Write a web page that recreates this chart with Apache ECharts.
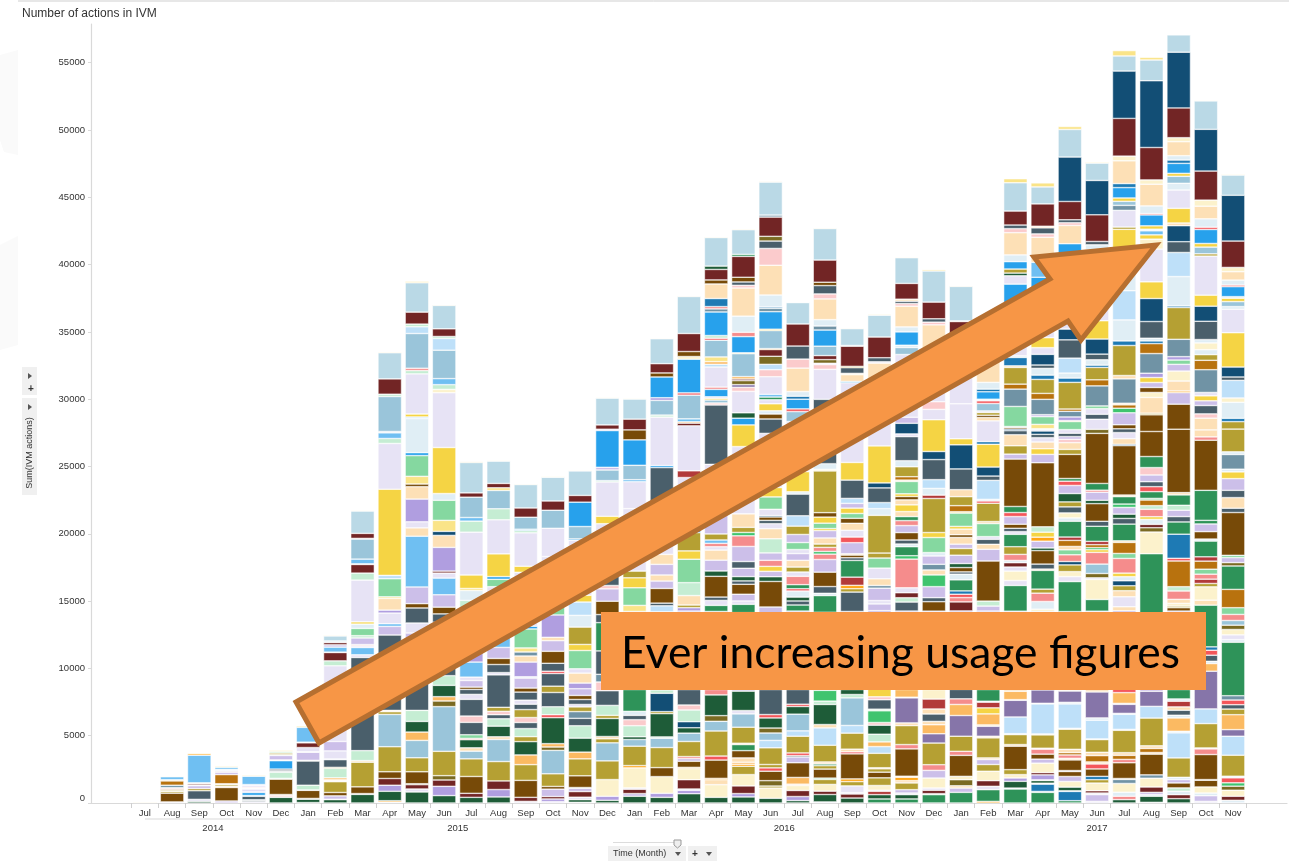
<!DOCTYPE html>
<html><head><meta charset="utf-8">
<style>html,body{margin:0;padding:0;background:#fff}#c{width:1289px;height:863px}</style>
<script src="https://cdn.jsdelivr.net/npm/echarts@6/dist/echarts.min.js"></script></head>
<body><div id="c"></div>
<script>
const monthLabels=['Jul','Aug','Sep','Oct','Nov','Dec','Jan','Feb','Mar','Apr','May','Jun','Jul','Aug','Sep','Oct','Nov','Dec','Jan','Feb','Mar','Apr','May','Jun','Jul','Aug','Sep','Oct','Nov','Dec','Jan','Feb','Mar','Apr','May','Jun','Jul','Aug','Sep','Oct','Nov'];
const yearLabels=['2014','2015','2016','2017'];
const yearCentres=[3,12,24,35.5];
const yearSpans=[[0.5,5.5],[6.5,17.5],[18.5,29.5],[30.5,40.5]];
const valueTicks=[0,5000,10000,15000,20000,25000,30000,35000,40000,45000,50000,55000];

const m1407=['pyl',60];
const m1408=['lav',80,'br',650,'ol',130,'cr',50,'ol',100,'red',80,'cr',50,'st',180,'or',320,'pe',90,'lb',220,'pyl',50];
const m1409=['dg',120,'lav',150,'sl',640,'ol',160,'lil',210,'lav',60,'mar',100,'pe',60,'lb',2050,'org',120,'pyl',60];
const m1410=['lil',150,'br',1000,'pe',100,'ol',120,'cr',60,'or',680,'lil',170,'mar',60,'lav',60,'pbl',100,'lb',150,'pyl',80];
const m1411=['lav',100,'sl',100,'lav',40,'sl',260,'pbl',60,'sky',220,'lil',100,'pur',100,'lil',90,'mar',40,'pnk',80,'lil',100,'lav',80,'lb',620,'pe',40,'pyl',70];
const m1412=['dg',420,'lav',50,'sal',100,'pe',60,'br',1140,'pbl',60,'pm',450,'sl',80,'pe',30,'sl',130,'sky',620,'pbl',60,'lil',330,'lav',60,'ol',120,'pm',120,'pyl',80];
const m1501=['lav',30,'dg',250,'pe',60,'br',600,'pe',30,'pm',350,'sl',1800,'pe',50,'lil',600,'pbl',40,'lav',310,'mar',350,'lav',50,'lb',1100,'pyl',100];
const m1502=['dg',250,'pe',30,'lil',250,'br',250,'ol',800,'ol',50,'mar',30,'pe',60,'lo',150,'pm',700,'ol',80,'sl',570,'lil',50,'lav',600,'lil',700,'lav',5620,'pm',370,'mar',620,'pe',30,'lb',370,'lil',170,'mar',170,'pbl',120,'gb',370,'pyl',60];
const m1503=['dg',640,'lav',60,'br',500,'ol',1830,'pe',120,'pm',740,'sl',6920,'lav',200,'lb',540,'lav',120,'pnk',100,'lil',490,'pm',170,'mint',540,'pbl',320,'yl',170,'lav',3100,'pm',520,'mar',640,'pe',50,'lb',350,'tb',1490,'pe',50,'mar',370,'gb',1660,'pyl',50];
const m1504=['lav',70,'org',100,'dg',700,'pur',450,'mar',500,'br',500,'ol',1860,'tb',2400,'ol',200,'pe',100,'sl',5600,'lil',640,'lb',200,'lav',790,'pur',220,'pe',870,'pyl',120,'mint',1340,'ltb',250,'yl',6400,'lav',3400,'pm',370,'lb',420,'pbl',100,'tb',2600,'pm',170,'mar',1140,'gb',1940,'pyl',60];
const m1505=['dg',820,'lav',220,'mar',320,'dol',70,'br',890,'ol',1040,'tb',1290,'lo',620,'dg',790,'pm',820,'sl',3520,'lil',2230,'lav',740,'sl',1120,'br',320,'lil',1240,'lb',3770,'pe',620,'lav',450,'pur',1690,'pe',920,'br',200,'pyl',570,'mint',1540,'sky',220,'pbl',2530,'ltb',120,'yl',220,'lav',2980,'pm',250,'sal',170,'tb',2580,'ltb',500,'pm',200,'mar',890,'gb',2180,'pyl',100];
const m1506=['dg',550,'pur',690,'mar',470,'dol',320,'ol',1810,'tb',3320,'dol',420,'lo',320,'dg',840,'pm',720,'sl',2500,'lil',1470,'sl',620,'br',500,'lil',920,'lb',1240,'lav',370,'mar',150,'pur',1760,'pe',890,'navy',300,'pyl',820,'mint',1490,'pbl',500,'yl',3420,'lav',4070,'cr',250,'pm',350,'lb',450,'tb',2110,'ltb',870,'pm',150,'mar',570,'gb',1740,'pyl',50];
const m1507=['dg',420,'mar',300,'br',1250,'ol',1310,'tb',570,'pe',250,'dg',600,'sal',100,'mint',270,'sl',920,'pnk',470,'sl',1240,'lav',370,'sl',370,'br',170,'lil',490,'lav',250,'lb',1120,'pur',1000,'lav',1500,'lil',1340,'pm',740,'pbl',740,'pyl',150,'yl',1000,'lav',3180,'pm',820,'lb',270,'tb',1510,'mar',320,'gb',2260,'pyl',60];
const m1508=['dg',450,'pur',550,'mar',640,'ol',1440,'tb',1640,'pe',200,'dg',790,'pm',550,'sl',300,'pnk',250,'ol',300,'sl',2410,'lav',170,'sl',600,'br',450,'lil',820,'lb',1300,'lil',1000,'lav',2210,'mint',550,'sky',200,'yl',1690,'lav',2530,'pm',820,'tb',1360,'pyl',200,'mar',320,'gb',1660,'pyl',50];
const m1509=['lav',120,'mar',300,'br',1260,'ol',1170,'lo',720,'dg',990,'ol',370,'pm',600,'sl',450,'pnk',370,'ol',590,'sl',400,'lav',300,'sl',600,'br',300,'lil',740,'pbl',100,'pur',1090,'pe',450,'st',300,'pyl',300,'mint',1410,'sky',200,'lav',4010,'yl',450,'lav',2480,'pm',170,'lb',100,'tb',890,'mar',690,'gb',1740,'pyl',50];
const m1510=['lav',100,'pur',200,'mar',180,'lil',550,'br',200,'ol',940,'tb',1740,'dol',250,'lo',250,'dg',1930,'red',220,'pm',590,'sl',1060,'ol',470,'sl',940,'red',170,'sl',590,'br',890,'lil',790,'pe',250,'pur',1660,'mint',1700,'lav',2640,'lav',2100,'tb',1340,'mar',690,'gb',1760,'pyl',50];
const m1511=['lav',50,'dg',200,'lav',180,'mar',420,'lil',250,'pbl',50,'br',870,'ol',1260,'lo',500,'dg',1040,'pm',920,'sl',550,'st',500,'ol',350,'lav',180,'sl',370,'br',300,'lil',500,'pur',420,'pe',740,'lav',320,'mint',1360,'yl',450,'ol',1290,'pbl',870,'ltb',990,'yl',500,'lav',4090,'sky',100,'tb',920,'sky',1810,'mar',500,'gb',1820,'pyl',50];
const m1512=['dg',200,'pur',300,'cr',1240,'ol',1390,'tb',1340,'ol',300,'pe',170,'dg',1340,'ol',230,'pm',740,'sl',1090,'pnk',650,'st',570,'sl',1740,'g',2100,'sl',600,'br',990,'lil',920,'pnk',250,'sl',1500,'lav',3090,'yl',550,'lav',2550,'pm',100,'tb',790,'lil',200,'sky',2730,'lil',100,'mar',320,'gb',1990,'pyl',50];
const m1601=['dg',500,'lil',200,'mar',320,'lav',100,'cr',1490,'org',170,'ol',1440,'tb',500,'dg',200,'pm',820,'pnk',450,'sl',320,'pbl',300,'g',1620,'lil',5800,'pyl',450,'mint',1310,'yl',740,'ol',500,'lav',4640,'lav',2000,'lb',150,'tb',1070,'sky',1890,'br',740,'mar',800,'gb',1490,'pyl',50];
const m1602=['dg',420,'pur',300,'cr',1240,'br',670,'ol',1490,'tb',690,'pm',100,'dg',1730,'ol',150,'navy',1360,'pm',250,'lil',5800,'ltb',450,'sl',200,'br',1090,'lil',550,'pe',450,'lil',790,'pe',740,'lav',2360,'sl',4090,'sky',150,'lav',3600,'pm',150,'tb',1090,'pur',200,'sky',1540,'br',300,'mar',690,'gb',1850,'pyl',50];
const m1603=['dg',690,'pur',250,'lav',100,'mar',690,'cr',820,'lo',100,'br',450,'lil',200,'sal',150,'ol',1120,'tb',620,'dg',400,'navy',450,'pm',870,'pnk',370,'sl',1150,'lil',5830,'pur',250,'ol',200,'pe',700,'pm',960,'mint',1740,'yl',620,'ol',1360,'sky',1000,'lav',3090,'dred',500,'lav',3340,'mar',200,'lo',100,'lb',220,'tb',1760,'red',170,'sky',2500,'cr',200,'br',370,'mar',1340,'gb',2750,'pyl',50];
const m1604=['dg',420,'cr',940,'pe',370,'org',100,'br',1360,'red',300,'ol',1860,'tb',720,'dol',420,'dg',1540,'sal',400,'lil',5800,'g',450,'lav',370,'sl',250,'br',1540,'dg',400,'lil',800,'pe',750,'lav',250,'sal',250,'lb',250,'ol',450,'lil',2360,'lav',2810,'sl',4410,'pnk',150,'tb',220,'yl',120,'lav',120,'sky',550,'sal',170,'lav',1490,'ltb',200,'lo',200,'pyl',350,'tb',1240,'red',150,'pm',200,'sky',1750,'st',230,'sal',170,'blu',600,'pe',1080,'br',300,'mar',780,'dg',250,'gb',2120,'pyl',50];
const m1605=['dg',450,'pur',250,'mar',570,'cr',840,'ol',620,'org',150,'lo',150,'pe',320,'br',540,'g',450,'pe',100,'ol',1190,'tb',990,'lav',250,'dg',1440,'lil',5830,'g',620,'lav',250,'lil',500,'br',740,'sl',250,'dg',320,'lil',620,'sl',500,'lil',1120,'sal',790,'lg',250,'ol',380,'pe',1000,'lav',5000,'yl',1610,'sky',500,'dg',400,'lav',1590,'pnk',300,'dpu',200,'dol',300,'mar',120,'lo',180,'tb',1700,'pyl',70,'sky',1200,'sal',320,'pbl',1200,'pe',2090,'pnk',200,'sl',250,'br',350,'mar',1550,'g',150,'gb',1830,'pyl',60];
const m1606=['dg',350,'cr',760,'ol',150,'dol',400,'br',700,'red',250,'ol',250,'ol',1240,'ltb',550,'tb',550,'dol',370,'dg',750,'red',250,'sl',1860,'pnk',300,'lo',100,'lil',5730,'br',1900,'dg',350,'lil',400,'yl',370,'sal',450,'lil',550,'pm',1050,'pe',750,'lav',370,'sl',250,'br',250,'navy',100,'lav',470,'mint',920,'yl',700,'lav',4020,'sl',1070,'br',370,'pbl',240,'yl',520,'lav',300,'g',200,'lb',200,'lav',1310,'pnk',520,'ltb',400,'dol',600,'mar',500,'org',70,'tb',1340,'yl',100,'sky',1300,'st',250,'blu',100,'pbl',890,'pe',2210,'pnk',1250,'sl',550,'dol',350,'mar',1430,'st',150,'gb',2450,'lil',50,'pyl',50];
const m1607=['dg',180,'pur',300,'mar',450,'cr',370,'pe',100,'lo',500,'br',1090,'lil',430,'sl',100,'red',200,'ol',1240,'ltb',400,'tb',1240,'dg',570,'red',170,'sl',1090,'lil',5830,'g',450,'sl',300,'dg',290,'pbl',450,'red',170,'g',300,'sal',620,'lav',320,'ol',370,'pe',500,'lil',500,'lav',300,'mint',520,'lil',600,'ol',620,'ltb',770,'sl',1610,'pbl',170,'yl',1500,'lav',3720,'tb',740,'red',200,'sky',720,'blu',220,'pbl',350,'pe',1740,'pnk',670,'sl',970,'mar',1640,'gb',1590,'pyl',30];
const m1608=['lav',80,'dg',550,'mar',250,'cr',500,'ol',370,'mint',100,'br',670,'ol',250,'g',130,'pe',150,'ol',1240,'ltb',1290,'pe',250,'dg',1490,'pm',250,'lg',800,'lil',5800,'g',1240,'pbl',170,'sl',500,'br',1070,'lil',940,'sal',400,'lg',200,'sal',300,'ol',250,'pe',450,'lil',550,'yl',150,'mint',400,'yl',450,'br',330,'ol',3100,'cr',120,'pbl',420,'sl',4780,'lav',2230,'pnk',350,'lav',100,'dol',270,'mar',300,'tb',700,'sky',1200,'st',300,'pbl',470,'pe',1540,'pnk',370,'sl',620,'br',250,'mar',1650,'gb',2340,'pyl',50];
const m1609=['dg',370,'mar',300,'lav',100,'lav',500,'ol',320,'org',200,'br',1860,'red',150,'pe',200,'ol',1190,'ltb',570,'tb',2050,'pm',250,'dg',370,'lil',5800,'sl',1440,'ol',250,'org',250,'dred',610,'g',1240,'sl',200,'br',200,'pe',100,'lil',820,'red',420,'lav',500,'pe',520,'br',370,'mint',360,'yl',400,'lil',350,'ltb',370,'sl',1360,'yl',1310,'lav',5920,'sky',100,'pe',500,'cr',100,'sl',420,'ol',100,'mar',1500,'lav',50,'gb',1250,'pyl',50];
const m1610=['g',300,'dg',320,'dred',250,'lav',80,'cr',350,'ol',570,'br',420,'ol',250,'pe',80,'ol',1070,'ltb',500,'lo',350,'pm',570,'dg',670,'pnk',200,'lg',870,'pm',120,'sl',700,'pnk',220,'yl',570,'lil',5830,'lil',500,'lav',250,'lil',920,'st',200,'pe',500,'lav',790,'mint',750,'ol',370,'ol',2800,'pbl',500,'ltb',450,'sl',1090,'navy',370,'yl',2750,'lav',4150,'pe',2000,'lav',100,'sl',300,'mar',1540,'gb',1620,'pyl',60];
const m1611=['g',300,'dg',320,'lav',120,'lil',250,'ol',500,'pe',170,'org',250,'pe',80,'br',2030,'sal',320,'ol',1410,'pe',200,'dpu',1860,'pe',50,'lo',570,'lil',5830,'sl',670,'pm',320,'mar',370,'lav',370,'sal',2130,'lg',250,'g',670,'pbl',200,'sl',300,'br',550,'lil',520,'sal',370,'g',300,'pe',370,'yl',500,'pe',370,'br',250,'yl',200,'mint',920,'pe',100,'or',250,'ol',740,'pbl',450,'sl',1790,'lav',200,'navy',790,'lil',450,'lav',4660,'tb',520,'pbl',170,'sky',990,'pbl',370,'pe',1540,'pnk',200,'sl',170,'pe',150,'mar',1170,'gb',1910,'pyl',50];
const m1612=['g',620,'pm',74,'mar',250,'lav',170,'cr',740,'lil',570,'sal',420,'ol',1610,'dpu',690,'lo',670,'pe',250,'sl',550,'pe',370,'dred',740,'cr',700,'lil',5830,'br',700,'sl',300,'lil',820,'lg',870,'pe',370,'st',420,'lil',620,'pbl',250,'mint',1120,'yl',370,'ol',2530,'dred',250,'pbl',500,'ltb',650,'sl',1490,'navy',600,'yl',2360,'lav',770,'pnk',570,'lav',3680,'pe',2030,'pnk',200,'sl',250,'mar',1240,'gb',2310,'pyl',100];
const m1701=['g',790,'lil',320,'pe',170,'dol',450,'cr',250,'br',1560,'sal',300,'ol',1120,'dpu',1540,'lo',820,'sal',420,'sl',700,'lil',5830,'mar',670,'sal',320,'red',250,'blu',250,'g',820,'pbl',420,'sl',170,'br',320,'dg',300,'lil',620,'ol',500,'lil',320,'pe',500,'br',200,'pe',420,'yl',200,'mint',990,'pyl',100,'or',450,'ol',670,'pe',520,'sl',1540,'navy',1790,'yl',450,'lav',2600,'lav',4990,'mar',1120,'pe',50,'gb',2560,'pyl',50];
const m1702=['org',120,'g',870,'lav',250,'mar',420,'cr',700,'ol',500,'lil',370,'pe',120,'ol',1490,'pe',120,'dpu',740,'pe',100,'lo',820,'yl',450,'dred',420,'pbl',70,'g',870,'lil',5830,'lil',370,'pm',370,'br',2980,'lil',870,'pe',370,'sl',370,'lav',200,'mint',970,'pe',150,'ol',1360,'red',170,'pbl',120,'ltb',1410,'sl',320,'navy',670,'yl',1690,'blu',200,'lav',1540,'pe',250,'br',170,'ol',200,'lav',120,'tb',550,'red',200,'pbl',120,'sky',550,'blu',200,'pbl',500,'pe',2250,'mar',1500,'gb',1100,'pyl',50];
const m1703=['g',1040,'pbl',70,'dg',500,'pur',250,'cr',250,'ol',370,'br',1740,'pe',120,'ol',740,'pbl',70,'ltb',1240,'dpu',1240,'pbl',50,'lo',620,'pe',120,'lil',5830,'g',1910,'lav',370,'cr',700,'lav',300,'mar',320,'pbl',170,'sal',450,'ol',570,'g',920,'lav',200,'sl',250,'br',300,'lil',570,'red',300,'g',450,'br',3520,'lil',370,'ol',620,'pe',820,'sl',300,'navy',120,'br',120,'pbl',70,'mint',1490,'st',1290,'or',370,'ol',1240,'pe',120,'blu',620,'pbl',120,'lav',2700,'lb',900,'sky',1730,'lav',620,'dg',200,'ol',300,'sky',550,'pbl',500,'pe',1650,'pnk',300,'sl',270,'mar',1040,'gb',2100,'pyl',300];
const m1704=['g',790,'pbl',70,'blu',540,'pbl',70,'dg',200,'lav',50,'pur',370,'mar',170,'cr',700,'lil',300,'br',370,'sal',370,'pe',70,'ol',990,'pe',70,'ltb',2230,'pe',50,'dpu',990,'lil',5830,'cr',170,'pbl',570,'sal',620,'ol',300,'g',1390,'pe',100,'sl',370,'br',1000,'dg',200,'lil',500,'org',300,'yl',370,'pm',400,'br',4760,'lil',620,'yl',420,'pe',500,'lav',320,'sl',250,'navy',250,'lav',120,'pm',50,'pyl',320,'mint',570,'lil',150,'st',1140,'or',440,'ol',1040,'blu',320,'pbl',500,'sl',250,'navy',790,'lav',500,'yl',740,'lav',2470,'sky',2020,'lb',1110,'pe',1860,'pnk',250,'sl',450,'pe',120,'mar',1660,'gb',1260,'pyl',300];
const m1705=['g',170,'blu',690,'pbl',50,'dg',270,'cr',420,'lil',370,'br',370,'pbl',70,'br',790,'pe',120,'sal',250,'or',170,'pe',250,'ol',1490,'pbl',70,'ltb',1810,'pbl',120,'dpu',840,'pe',70,'lil',5830,'g',2230,'lav',370,'cr',370,'ol',500,'navy',250,'sal',500,'mint',370,'pe',250,'or',450,'dred',250,'g',1170,'pbl',250,'cr',370,'sl',450,'ol',370,'dg',620,'lil',600,'red',320,'g',200,'br',1790,'ol',370,'pe',500,'pnk',250,'lil',200,'sl',250,'lav',270,'mint',600,'pyl',70,'pur',270,'st',420,'or',170,'ol',1980,'blu',320,'pbl',370,'ltb',1110,'sl',1360,'navy',800,'lav',3200,'sky',3140,'pe',1360,'pnk',200,'sl',220,'mar',1360,'navy',3300,'gb',2050,'pyl',220];
const m1706=['lav',120,'lil',500,'lav',120,'mar',170,'cr',570,'ol',250,'blu',250,'br',550,'red',370,'pe',150,'or',470,'pe',250,'ol',940,'pbl',50,'ltb',1390,'pbl',170,'dpu',1930,'pe',170,'lil',5830,'g',870,'cr',1490,'lav',120,'dol',320,'tb',700,'sal',870,'yl',200,'lg',150,'or',220,'dred',250,'g',1120,'sl',370,'br',1310,'dg',250,'lil',600,'sal',150,'g',500,'br',3720,'dol',300,'lav',750,'sl',370,'lav',420,'mint',200,'st',1490,'or',450,'ol',920,'blu',170,'pbl',400,'sl',420,'navy',1120,'yl',1360,'lav',2650,'yl',2620,'pbl',370,'sl',250,'mar',1980,'navy',2550,'gb',1290,'pyl',70];
const m1707=['dg',250,'sal',250,'pbl',300,'cr',650,'st',300,'pe',70,'br',1170,'sal',250,'or',300,'pe',200,'ol',1660,'pbl',70,'ltb',1120,'pbl',70,'dpu',670,'pbl',70,'lo',800,'red',250,'lil',5830,'pe',300,'lav',740,'pe',450,'ol',370,'navy',370,'pbl',300,'yl',270,'sal',1090,'mint',370,'or',820,'pe',120,'g',1240,'sl',420,'dg',320,'lil',500,'lg',250,'g',550,'pe',120,'br',3670,'navy',100,'pe',420,'lav',450,'sl',280,'br',300,'lil',890,'lg',340,'or',250,'pe',120,'st',1810,'pe',250,'ol',2230,'blu',340,'pbl',1560,'ltb',2170,'pbl',2540,'yl',2020,'ol',170,'lav',1240,'st',370,'tb',300,'yl',250,'sky',770,'blu',300,'pe',1690,'cr',350,'mar',2800,'navy',3520,'gb',1120,'pyl',400];
const m1708=['lav',50,'dg',450,'pbl',120,'lil',170,'mar',400,'cr',650,'st',250,'br',1540,'pe',120,'or',300,'pe',200,'ol',2060,'ltb',870,'dpu',1120,'lil',5830,'g',4390,'cr',1610,'dol',320,'mar',250,'pbl',370,'yl',200,'sal',550,'pm',270,'or',420,'mint',120,'g',500,'red',370,'sl',370,'lil',500,'pnk',550,'g',820,'br',1860,'br',1240,'ol',120,'pe',1170,'cr',370,'br',370,'lil',370,'yl',370,'pur',320,'st',1460,'or',740,'blu',200,'pbl',200,'sl',1240,'navy',1710,'yl',1240,'lav',2430,'cr',740,'yl',320,'lb',300,'pbl',120,'yl',250,'sky',810,'red',100,'pbl',570,'pe',1610,'cr',320,'mar',2410,'navy',4960,'gb',1540,'pyl',200];
const m1709=['dg',320,'mar',300,'pbl',250,'pm',250,'br',370,'lil',250,'pbl',170,'ol',1440,'ltb',1860,'pbl',120,'lo',990,'pbl',200,'sl',370,'pe',250,'dred',420,'pbl',170,'g',700,'lil',5830,'br',250,'ol',120,'cr',200,'pe',300,'sal',620,'pm',320,'or',1910,'red',200,'blu',1790,'g',910,'sl',400,'lil',470,'pm',370,'g',770,'pe',170,'br',4710,'br',1860,'lil',860,'org',120,'pe',740,'cr',740,'lil',500,'mint',320,'pur',250,'st',1290,'ol',2360,'blu',120,'pbl',2180,'ltb',1790,'sl',800,'navy',1190,'pe',200,'yl',1090,'lav',1360,'pbl',500,'tb',520,'yl',220,'sky',740,'blu',250,'pbl',320,'pe',1040,'cr',300,'mar',2210,'navy',4140,'gb',1290,'pyl',30];
const m1710=['lav',120,'lil',420,'pbl',200,'cr',450,'br',500,'pe',50,'br',1860,'sal',420,'pe',70,'ol',1810,'ltb',1090,'dpu',2800,'lo',570,'pbl',170,'sl',450,'red',370,'blu',250,'g',3100,'pe',370,'cr',990,'ol',250,'dred',320,'sal',370,'mint',370,'or',600,'dred',320,'g',1170,'pbl',150,'br',550,'lil',570,'g',270,'g',2230,'br',3720,'sal',250,'pe',520,'pe',870,'pnk',320,'sl',620,'lil',350,'yl',370,'lav',250,'st',1690,'or',700,'ol',420,'pbl',370,'cr',500,'pbl',250,'sl',1360,'navy',1120,'yl',820,'lav',2900,'ol',170,'tb',500,'yl',270,'sky',1040,'red',170,'pbl',620,'pe',940,'cr',450,'mar',2160,'navy',3100,'gb',2110,'pyl',50];
const m1711=['pbl',200,'mar',300,'cr',450,'dol',300,'lg',250,'red',370,'pbl',120,'ol',1560,'ltb',1410,'dpu',490,'lo',1110,'ol',420,'sl',320,'red',350,'st',320,'g',3970,'pbl',200,'lav',350,'cr',400,'dol',320,'tb',350,'sal',450,'mint',500,'or',1360,'g',1740,'dol',250,'lil',370,'mint',170,'br',3180,'sl',320,'pe',790,'sl',540,'lil',870,'yl',500,'pbl',200,'st',1090,'pbl',200,'ol',1690,'ol',550,'blu',250,'pbl',1190,'cr',320,'ltb',1310,'sl',250,'navy',740,'yl',2550,'lav',1740,'pbl',200,'tb',370,'yl',250,'pbl',120,'sky',740,'red',120,'pbl',370,'pe',620,'cr',320,'mar',1960,'navy',3400,'gb',1500,'pyl',60];

const stacks=[m1407,m1408,m1409,m1410,m1411,m1412,m1501,m1502,m1503,m1504,m1505,m1506,m1507,m1508,m1509,m1510,m1511,m1512,m1601,m1602,m1603,m1604,m1605,m1606,m1607,m1608,m1609,m1610,m1611,m1612,m1701,m1702,m1703,m1704,m1705,m1706,m1707,m1708,m1709,m1710,m1711];

const palette={lav:'#E7E3F5',lil:'#CCBFE9',pur:'#B09EE0',dpu:'#8675A9',pyl:'#FAE488',yl:'#F5D444',pnk:'#FBCBCC',sal:'#F58C8C',dred:'#B23A3A',red:'#F4565A',mar:'#722525',pe:'#FDE0B6',cr:'#FCF2CC',org:'#FFA515',lo:'#FBBA62',or:'#B8720E',dol:'#7A6A22',ol:'#B5A033',br:'#774A08',pm:'#C5EDD3',mint:'#85D8A0',lg:'#3FC46F',g:'#2E9359',dg:'#1E5C38',pbl:'#E0EEF5',ltb:'#BEE0F9',tb:'#9AC5DA',gb:'#BAD9E6',lb:'#6FBFF2',sky:'#27A1EC',blu:'#1E7AB4',navy:'#124E75',st:'#7093A5',sl:'#4A5F6B'};

const FONT='"Liberation Sans",Arial,sans-serif';
const AX='#d9d9d9', TXT='#333';
const YMAX=57875;
const maxSlots=Math.max(...stacks.map(s=>s.length/2));
const barSeries=[];
for(let k=0;k<maxSlots;k++){
  barSeries.push({type:'bar',stack:'a',xAxisIndex:0,yAxisIndex:0,barWidth:23.6,
    data:stacks.map(s=>{
      if(2*k>=s.length) return null;
      return {value:s[2*k+1],itemStyle:{color:palette[s[2*k]]}};
    }),
    itemStyle:{borderColor:'#fff',borderWidth:0.55},
    silent:true,animation:false,z:2});
}
const yearSeries=yearSpans.map(sp=>({type:'line',xAxisIndex:2,yAxisIndex:2,showSymbol:false,silent:true,animation:false,
  data:[[sp[0],1],[sp[1],1]],lineStyle:{color:AX,width:1.2},clip:false}));

const tri=(pts,fill)=>({type:'polygon',z:50,shape:{points:pts},style:{fill:fill||'#555'},silent:true});
const gText=(t,x,y,o)=>Object.assign({type:'text',z:50,x,y,silent:true,style:Object.assign({text:t,font:'9px '+FONT,fill:TXT,align:'left',verticalAlign:'middle'},o||{})});
const graphics=[
  {type:'polygon',z:0,shape:{points:[[0,55],[18,50],[18,155],[4,152],[0,140]]},style:{fill:'#fafafa'},silent:true},
  {type:'polygon',z:0,shape:{points:[[0,245],[18,236],[18,345],[0,350]]},style:{fill:'#fafafa'},silent:true},
  {type:'line',z:50,shape:{x1:18,y1:1,x2:1289,y2:1},style:{stroke:'#cfcfcf',lineWidth:1},silent:true},
  {type:'rect',z:50,shape:{x:22,y:367,width:15,height:28},style:{fill:'#f0f0f0'},silent:true},
  tri([[28,373],[28,379],[32,376]]),
  gText('+',28,389,{font:'bold 10px '+FONT}),
  {type:'rect',z:50,shape:{x:22,y:398,width:15,height:97},style:{fill:'#f0f0f0'},silent:true},
  tri([[28,404],[28,410],[32,407]]),
  {type:'text',z:50,x:30,y:453,rotation:Math.PI/2,silent:true,style:{text:'Sum(IVM actions)',font:'9px '+FONT,fill:TXT,align:'center',verticalAlign:'middle'}},
  {type:'line',z:50,shape:{x1:613,y1:842.5,x2:675,y2:842.5},style:{stroke:'#dcdcdc',lineWidth:1},silent:true},
  {type:'polygon',z:51,shape:{points:[[674,840],[681,840],[681,845],[677.5,848],[674,845]]},style:{fill:'#eee',stroke:'#999',lineWidth:1},silent:true},
  {type:'rect',z:50,shape:{x:608,y:846,width:78,height:15},style:{fill:'#f0f0f0'},silent:true},
  gText('Time (Month)',613,853.5),
  tri([[675,852],[681,852],[678,856]]),
  {type:'rect',z:50,shape:{x:688,y:846,width:29,height:15},style:{fill:'#f0f0f0'},silent:true},
  gText('+',692,854,{font:'bold 10px '+FONT}),
  tri([[706,852],[712,852],[709,856]]),
  {type:'polygon',z:100,silent:true,shape:{points:[[296,702],[1050,279],[1034,257],[1156,245],[1081,340],[1068,321],[319,743]]},
    style:{fill:'#F79646',stroke:'#B66F30',lineWidth:5,lineJoin:'miter'}},
  {type:'rect',z:100,silent:true,shape:{x:601,y:612,width:605,height:78},style:{fill:'#F79646'}},
  {type:'text',z:101,silent:true,x:621,y:654,style:{text:'Ever increasing usage figures',font:'44.4px Lato,"Open Sans",sans-serif',fill:'#000',align:'left',verticalAlign:'middle'}}
];

const chart=echarts.init(document.getElementById('c'),null,{renderer:'canvas'});
chart.setOption({
  animation:false,backgroundColor:'#fff',
  title:{text:'Number of actions in IVM',left:17,top:3,textStyle:{fontFamily:FONT,fontSize:12,fontWeight:'normal',color:TXT}},
  grid:[
    {left:131.3,width:1115.4,top:24,height:779},
    {left:91,width:1196,top:24,height:779},
    {left:131.3,width:1115.4,top:819,height:1}
  ],
  xAxis:[
    {type:'category',gridIndex:0,data:monthLabels,axisLine:{show:false},
      axisTick:{show:true,alignWithLabel:false,length:5,lineStyle:{color:'#cfcfcf'}},
      axisLabel:{interval:0,margin:5,fontFamily:FONT,fontSize:9.5,color:TXT},splitLine:{show:false}},
    {type:'category',gridIndex:1,data:[''],axisLine:{show:true,lineStyle:{color:AX,width:1.2}},axisTick:{show:false},axisLabel:{show:false}},
    {type:'value',gridIndex:2,min:0,max:41,axisLine:{show:false},axisTick:{show:false},splitLine:{show:false},
      axisLabel:{show:true,customValues:yearCentres,margin:3,fontFamily:FONT,fontSize:9.5,color:TXT,
        formatter:v=>yearLabels[yearCentres.indexOf(v)]}}
  ],
  yAxis:[
    {type:'value',gridIndex:0,min:0,max:YMAX,show:false},
    {type:'value',gridIndex:1,min:0,max:YMAX,
      axisLine:{show:true,lineStyle:{color:AX,width:1.2}},
      axisTick:{show:true,length:3,customValues:valueTicks,lineStyle:{color:AX}},
      splitLine:{show:false},
      axisLabel:{customValues:valueTicks,margin:6,fontFamily:FONT,fontSize:9.5,color:TXT,verticalAlignMinLabel:'bottom',formatter:v=>String(v)}},
    {type:'value',gridIndex:2,min:0,max:1,show:false}
  ],
  series:barSeries.concat(yearSeries),
  graphic:{elements:graphics}
});
</script></body></html>
